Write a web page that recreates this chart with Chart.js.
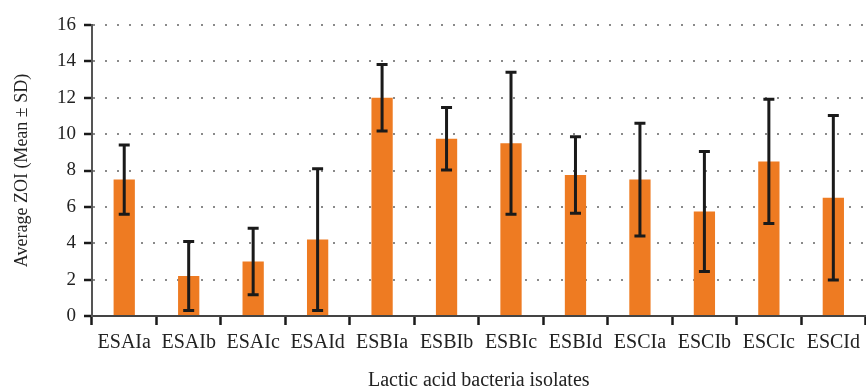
<!DOCTYPE html>
<html>
<head>
<meta charset="utf-8">
<script src="https://cdn.jsdelivr.net/npm/chart.js@4/dist/chart.umd.min.js"></script>
<style>
html,body{margin:0;padding:0;background:#fff;}
#wrap{width:866px;height:390px;position:relative;}
</style>
</head>
<body>
<div id="wrap"><canvas id="c"></canvas></div>
<script>
const categories = ["ESAIa","ESAIb","ESAIc","ESAId","ESBIa","ESBIb","ESBIc","ESBId","ESCIa","ESCIb","ESCIc","ESCId"];
const means = [7.5, 2.2, 3.0, 4.2, 12.0, 9.75, 9.5, 7.75, 7.5, 5.75, 8.5, 6.5];
const sds = [1.9, 1.9, 1.83, 3.9, 1.83, 1.72, 3.9, 2.1, 3.1, 3.3, 3.42, 4.52];
const yTicks = [0, 2, 4, 6, 8, 10, 12, 14, 16];

const FONT = "'Liberation Serif', 'DejaVu Serif', serif";

const errorBars = {
  id: 'errorBars',
  afterDatasetsDraw(chart) {
    const ctx = chart.ctx;
    const meta = chart.getDatasetMeta(0);
    const ys = chart.scales.y;
    ctx.save();
    ctx.setLineDash([]);
    ctx.strokeStyle = '#1a1a1a';
    ctx.lineWidth = 3;
    meta.data.forEach((bar, i) => {
      const x = bar.x;
      const top = ys.getPixelForValue(means[i] + sds[i]);
      const bot = ys.getPixelForValue(means[i] - sds[i]);
      const cap = 5.5;
      ctx.beginPath();
      ctx.moveTo(x, top); ctx.lineTo(x, bot);
      ctx.moveTo(x - cap, top); ctx.lineTo(x + cap, top);
      ctx.moveTo(x - cap, bot); ctx.lineTo(x + cap, bot);
      ctx.stroke();
    });
    ctx.restore();
  }
};

new Chart(document.getElementById('c'), {
  type: 'bar',
  data: {
    labels: categories,
    datasets: [{
      data: means,
      backgroundColor: '#ee7b22',
      borderWidth: 0,
      barPercentage: 0.33,
      categoryPercentage: 1.0
    }]
  },
  plugins: [errorBars],
  options: {
    responsive: true,
    maintainAspectRatio: false,
    devicePixelRatio: 1,
    animation: false,
    layout: { padding: { top: 25, right: 0, left: 0, bottom: 0 } },
    plugins: { legend: { display: false }, tooltip: { enabled: false } },
    scales: {
      x: {
        afterFit(s) { s.height = 74; },
        grid: {
          offset: true,
          drawOnChartArea: false,
          drawTicks: true,
          tickLength: 9,
          tickColor: '#1a1a1a',
          tickWidth: 2.5
        },
        border: { display: true, color: '#444', width: 2 },
        ticks: { color: '#222', font: { family: FONT, size: 20 }, padding: 6, maxRotation: 0, autoSkip: false },
        title: { display: true, text: 'Lactic acid bacteria isolates', color: '#222', font: { family: FONT, size: 20 }, padding: { top: 0, bottom: -3 } }
      },
      y: {
        min: 0, max: 16,
        afterFit(s) { s.width = 92; },
        afterBuildTicks(s) { s.ticks = yTicks.map(v => ({ value: v })); },
        grid: {
          color: '#8a8a8a',
          lineWidth: 2,
          tickBorderDash: [],
          tickColor: '#1a1a1a',
          tickLength: 8,
          tickWidth: 2.5,
          drawTicks: true
        },
        border: { display: true, color: '#555', width: 2, dash: [2, 10], dashOffset: 0 },
        ticks: { color: '#222', font: { family: FONT, size: 19 }, padding: 8 },
        title: { display: true, text: 'Average ZOI (Mean ± SD)', color: '#222', font: { family: FONT, size: 18 }, padding: { top: 11, bottom: 0 } }
      }
    }
  }
});
</script>
</body>
</html>
